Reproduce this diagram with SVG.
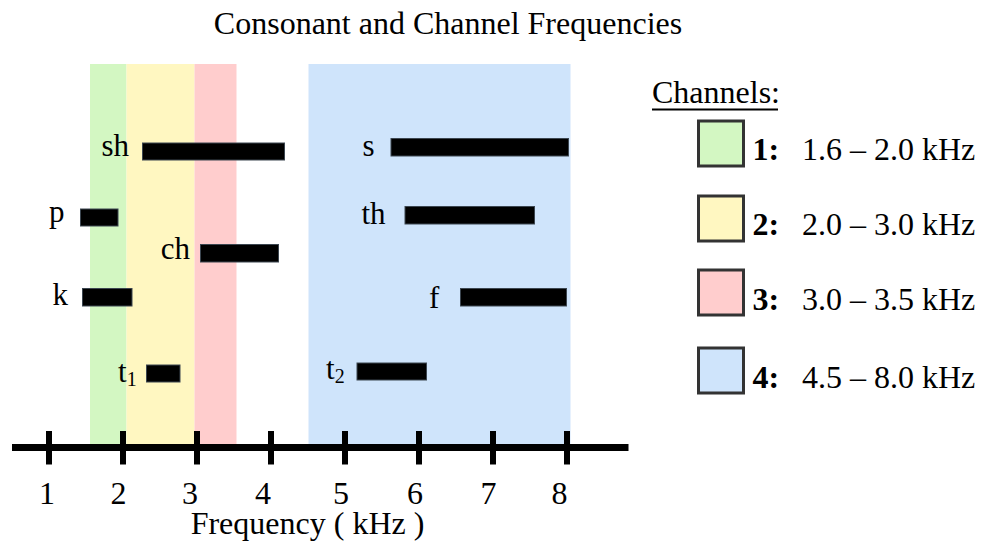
<svg xmlns="http://www.w3.org/2000/svg" width="981" height="548" viewBox="0 0 981 548">
  <style>
    text { font-family: "Liberation Serif", "Times New Roman", serif; fill: #000; }
    .big { font-size: 32px; }
    .lbl { font-size: 31px; }
    .sub { font-size: 20px; }
    .bar { fill: #000; stroke: #3c4650; stroke-width: 1; }
    .bold { font-weight: bold; }
    .axis { stroke: #000; stroke-width: 7; fill: none; }
    .tick { stroke: #000; stroke-width: 6; }
    .key { stroke: #333; stroke-width: 3; }
    .c1 { fill: #d3f7c2; }
    .c2 { fill: #fff7c1; }
    .c3 { fill: #ffcdcd; }
    .c4 { fill: #cfe4fb; }
  </style>

  <g id="title">
    <text class="big" x="448" y="34" text-anchor="middle">Consonant and Channel Frequencies</text>
  </g>

  <g id="bands">
    <rect class="c1" x="90" y="64" width="36.5" height="381"/>
    <rect class="c2" x="126.5" y="64" width="68" height="381"/>
    <rect class="c3" x="194.5" y="64" width="42" height="381"/>
    <rect class="c4" x="308.5" y="64" width="262" height="381"/>
  </g>

  <g id="bars">
    <g id="sh"><rect class="bar" x="142.5" y="143" width="142" height="17"/><text class="lbl" x="101.5" y="156">sh</text></g>
    <g id="p"><rect class="bar" x="80.5" y="209" width="37.5" height="17"/><text class="lbl" x="49" y="222">p</text></g>
    <g id="ch"><rect class="bar" x="200.5" y="244.5" width="78" height="17.5"/><text class="lbl" x="190" y="258.5" text-anchor="end">ch</text></g>
    <g id="k"><rect class="bar" x="82.5" y="288.5" width="49.5" height="17.5"/><text class="lbl" x="52.5" y="304.5">k</text></g>
    <g id="t1"><rect class="bar" x="146.5" y="365" width="33.5" height="17"/><text class="lbl" x="118" y="381.5">t<tspan class="sub" dy="4">1</tspan></text></g>
    <g id="s"><rect class="bar" x="391" y="138.5" width="177.5" height="17.5"/><text class="lbl" x="362.5" y="155.5">s</text></g>
    <g id="th"><rect class="bar" x="405" y="206.5" width="129.5" height="17.5"/><text class="lbl" x="361.5" y="223.5">th</text></g>
    <g id="f"><rect class="bar" x="460.5" y="288.5" width="106" height="17.5"/><text class="lbl" x="429" y="307.5">f</text></g>
    <g id="t2"><rect class="bar" x="357" y="363" width="69.5" height="17"/><text class="lbl" x="326" y="379">t<tspan class="sub" dy="4">2</tspan></text></g>
  </g>

  <g id="axis">
    <line class="axis" x1="12" y1="447.5" x2="628.5" y2="447.5"/>
    <line class="tick" x1="49" y1="431" x2="49" y2="464.5"/>
    <line class="tick" x1="123" y1="431" x2="123" y2="464.5"/>
    <line class="tick" x1="197" y1="431" x2="197" y2="464.5"/>
    <line class="tick" x1="271" y1="431" x2="271" y2="464.5"/>
    <line class="tick" x1="345" y1="431" x2="345" y2="464.5"/>
    <line class="tick" x1="419" y1="431" x2="419" y2="464.5"/>
    <line class="tick" x1="493" y1="431" x2="493" y2="464.5"/>
    <line class="tick" x1="567" y1="431" x2="567" y2="464.5"/>
    <g text-anchor="middle">
      <text class="big" x="47" y="504">1</text>
      <text class="big" x="118.5" y="504">2</text>
      <text class="big" x="190" y="504">3</text>
      <text class="big" x="263" y="504">4</text>
      <text class="big" x="341" y="504">5</text>
      <text class="big" x="415" y="504">6</text>
      <text class="big" x="488.5" y="504">7</text>
      <text class="big" x="559.5" y="504">8</text>
      <text class="big" x="307.5" y="534">Frequency ( kHz )</text>
    </g>
  </g>

  <g id="legend">
    <text class="big" x="652" y="103">Channels:</text>
    <line x1="652" y1="109.5" x2="778" y2="109.5" stroke="#000" stroke-width="2"/>
    <g id="ch1"><rect class="key c1" x="698.5" y="121" width="45" height="45"/><text class="big bold" x="752.5" y="160">1:</text><text class="big" x="802" y="160">1.6 – 2.0 kHz</text></g>
    <g id="ch2"><rect class="key c2" x="698.5" y="196" width="45" height="45"/><text class="big bold" x="752.5" y="235">2:</text><text class="big" x="802" y="235">2.0 – 3.0 kHz</text></g>
    <g id="ch3"><rect class="key c3" x="698.5" y="270" width="45" height="45"/><text class="big bold" x="752.5" y="310">3:</text><text class="big" x="802" y="310">3.0 – 3.5 kHz</text></g>
    <g id="ch4"><rect class="key c4" x="698.5" y="348" width="45" height="45"/><text class="big bold" x="752.5" y="388">4:</text><text class="big" x="802" y="388">4.5 – 8.0 kHz</text></g>
  </g>
</svg>
